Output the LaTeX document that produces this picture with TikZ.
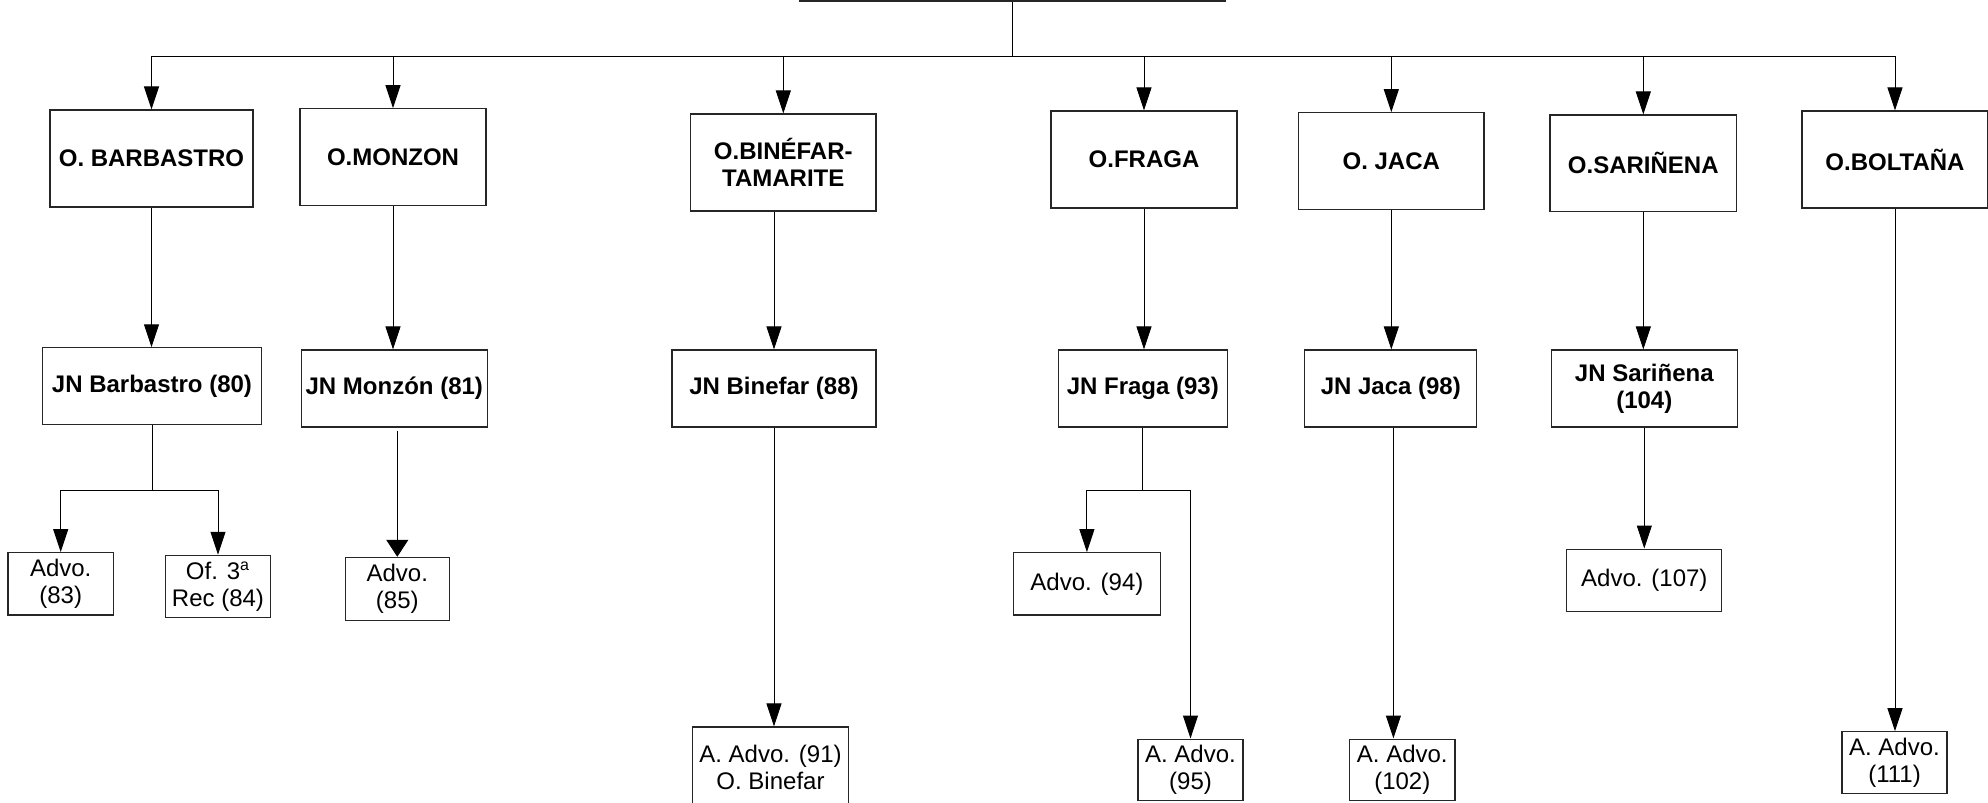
\documentclass[tikz,border=0pt]{standalone}
\usepackage{fontspec}
\setmainfont{Liberation Sans}
\usetikzlibrary{arrows.meta}
\tikzset{
    boxsize/.style 2 args={minimum width=#1*0.5pt, minimum height=#2*0.5pt},
    office/.style={draw=black!85, line width=0.55pt, inner sep=0pt, align=center,
                   font=\fontsize{12}{13.4}\selectfont\bfseries},
    leaf/.style={draw=black!85, line width=0.55pt, inner sep=0pt, align=center,
                 font=\fontsize{12}{13.5}\selectfont},
    arr/.style={-{Triangle[length=11.5pt,width=7.5pt]}},
    widearr/.style={-{Triangle[length=8.5pt,width=11pt]}},
}
\begin{document}
\begin{tikzpicture}[x=0.5pt,y=-0.5pt,line width=0.5pt]
                \useasboundingbox (0,0) rectangle (1988,803);
                \node[office, boxsize={425}{60}] (root) at (1012.5,-29) {};

                \node[office, boxsize={203}{97}] (barb) at (151.5,158.5) {O. BARBASTRO};
                \node[office, boxsize={186}{97}] (monz) at (393,157.2) {O.MONZON};
                \node[office, boxsize={185.4}{97}] (bine) at (783.3,162.5) {O.BINÉFAR-\\TAMARITE};
                \node[office, boxsize={186}{97}] (frag) at (1144,159.5) {O.FRAGA};
                \node[office, boxsize={185.4}{96.6}] (jaca) at (1391.3,161) {O. JACA};
                \node[office, boxsize={186.6}{96.7}] (sari) at (1643.3,163.3) {O.SARIÑENA};
                \node[office, boxsize={186}{97}] (bolt) at (1895,159.5) {O.BOLTAÑA};

                \node[office, boxsize={219}{77}] (jnbarb) at (152,386.3) {JN Barbastro (80)};
                \node[office, boxsize={186.5}{77}] (jnmonz) at (394.3,388.5) {JN Monzón (81)};
                \node[office, boxsize={204}{77}] (jnbine) at (774,388.5) {JN Binefar (88)};
                \node[office, boxsize={168.5}{77}] (jnfrag) at (1142.8,388.5) {JN Fraga (93)};
                \node[office, boxsize={172}{77}] (jnjaca) at (1390.8,388.5) {JN Jaca (98)};
                \node[office, boxsize={186.5}{77}] (jnsari) at (1644.3,388.5) {JN Sariñena\\(104)};

                \node[leaf, boxsize={105.4}{62.3}] (adv83) at (60.7,583.8) {Advo.\\(83)};
                \node[leaf, boxsize={105}{62.4}] (of84) at (218,586.5) {Of. 3\textsuperscript{a}\\Rec (84)};
                \node[leaf, boxsize={104.5}{62.7}] (adv85) at (397.3,588.7) {Advo.\\(85)};
                \node[leaf, boxsize={156.3}{80}] (adv91) at (770.5,767) {A. Advo. (91)\\O. Binefar};
                \node[leaf, boxsize={147.7}{62.3}] (adv94) at (1086.9,583.8) {Advo. (94)};
                \node[leaf, boxsize={105}{61.7}] (adv95) at (1190.5,769.9) {A. Advo.\\(95)};
                \node[leaf, boxsize={105.3}{61.7}] (adv102) at (1402.3,769.9) {A. Advo.\\(102)};
                \node[leaf, boxsize={155}{62.3}] (adv107) at (1644.3,580.2) {Advo. (107)};
                \node[leaf, boxsize={105}{61.6}] (adv111) at (1894.5,762.5) {A. Advo.\\(111)};

                \coordinate (bus) at (1012.5,56);
                \draw (root.south) -- (bus);
                \foreach \o in {barb,monz,bine,frag,jaca,sari,bolt}
                    \draw[arr] (bus) -| (\o.north);

                \foreach \a/\b in {barb/jnbarb,monz/jnmonz,frag/jnfrag,jaca/jnjaca,sari/jnsari}
                    \draw[arr] (\a.south) -- (\a.south |- \b.north);
                \draw[arr] (bine.south -| jnbine.north) -- (jnbine.north);

                \draw[arr] (jnbarb.south) -- ++(0,65) -| (adv83.north);
                \draw[arr] (jnbarb.south) -- ++(0,65) -| (of84.north);
                \draw[arr] (jnfrag.south) -- ++(0,63) -| (adv94.north);
                \draw[arr] (jnfrag.south) -- ++(0,63) -| (adv95.north);
                \draw[widearr] ([yshift=-1.5pt]jnmonz.south -| adv85.north) -- (adv85.north);
                \draw[arr] (jnbine.south) -- (jnbine.south |- adv91.north);
                \draw[arr] ([xshift=1.3pt]jnjaca.south) -- ([xshift=1.3pt]jnjaca.south |- adv102.north);
                \draw[arr] (jnsari.south) -- (jnsari.south |- adv107.north);
                \draw[arr] (bolt.south) -- (bolt.south |- adv111.north);
            \end{tikzpicture}
\end{document}
